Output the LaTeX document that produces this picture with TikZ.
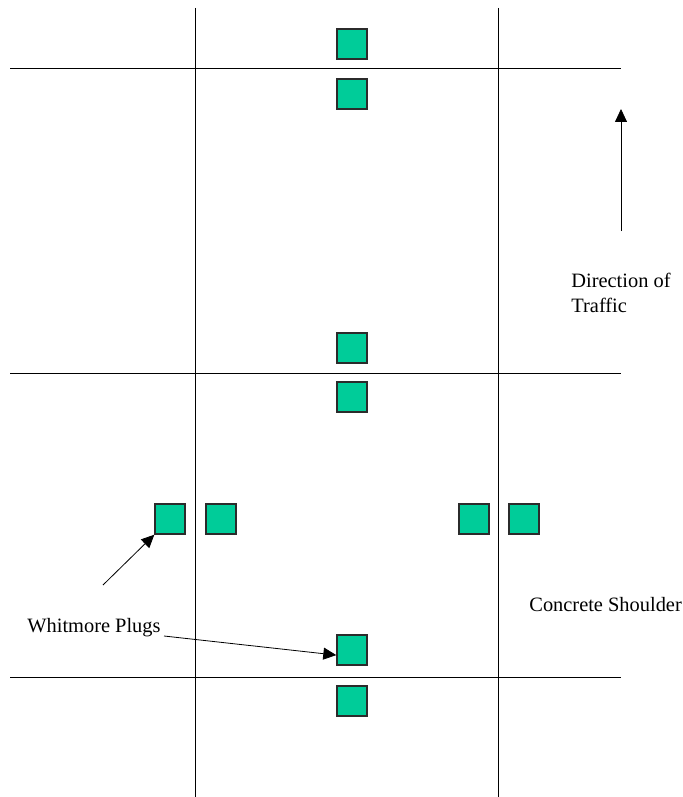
\documentclass[tikz,border=0pt]{standalone}
\usepackage{fontspec}
\setmainfont{Liberation Serif}
\usetikzlibrary{arrows.meta,positioning}
\definecolor{plugfill}{HTML}{00CC99}
\definecolor{plugedge}{HTML}{2B2B2B}

\begin{document}
\begin{tikzpicture}[x=0.5pt,y=-0.5pt,>={Triangle[length=6.5pt,width=6pt]}]
\tikzstyle{plug}=[draw=plugedge,fill=plugfill,line width=0.7pt,minimum size=15pt,inner sep=0pt]
\tikzstyle{joint}=[line width=0.5pt]
\tikzstyle{lbl}=[font=\fontsize{10.2}{12.5}\selectfont,inner sep=0pt,align=left]
\useasboundingbox (0,0) rectangle (682,797);
% joints in the pavement
\draw[joint] (195,8) -- (195,797); \draw[joint] (498,8) -- (498,797);
\draw[joint] (10,69) -- (621,69); \draw[joint] (10,373) -- (621,373); \draw[joint] (10,677) -- (621,677);
% Whitmore plugs
\node[plug] (p1) at (352,44) {}; \node[plug] (p2) at (352,94) {};
\node[plug] (p3) at (352,348) {}; \node[plug] (p4) at (352,397) {};
\node[plug] (p5) at (352,650) {}; \node[plug] (p6) at (352,701) {};
\node[plug] (p7) at (170,519) {}; \node[plug] (p8) at (221,519) {};
\node[plug] (p9) at (474,519) {}; \node[plug] (p10) at (524,519) {};
% labels
\node[lbl,anchor=base west] (wp) at (27,632) {Whitmore Plugs};
\node[lbl,anchor=base west] (cs) at (529,611) {Concrete Shoulder};
\node[lbl,anchor=base west] (dir) at (571,312) {Direction of\\Traffic};
% pointers
\coordinate (t1) at (103,585); \coordinate (t2) at (164,636);
\draw[->] (t1) -- (p7.south west);
\draw[->] (t2) -- (p5.198);
\coordinate (dtail) at (621,231); \coordinate (dtip) at (621,109);
\draw[->] (dtail) -- (dtip);
\end{tikzpicture}
\end{document}
